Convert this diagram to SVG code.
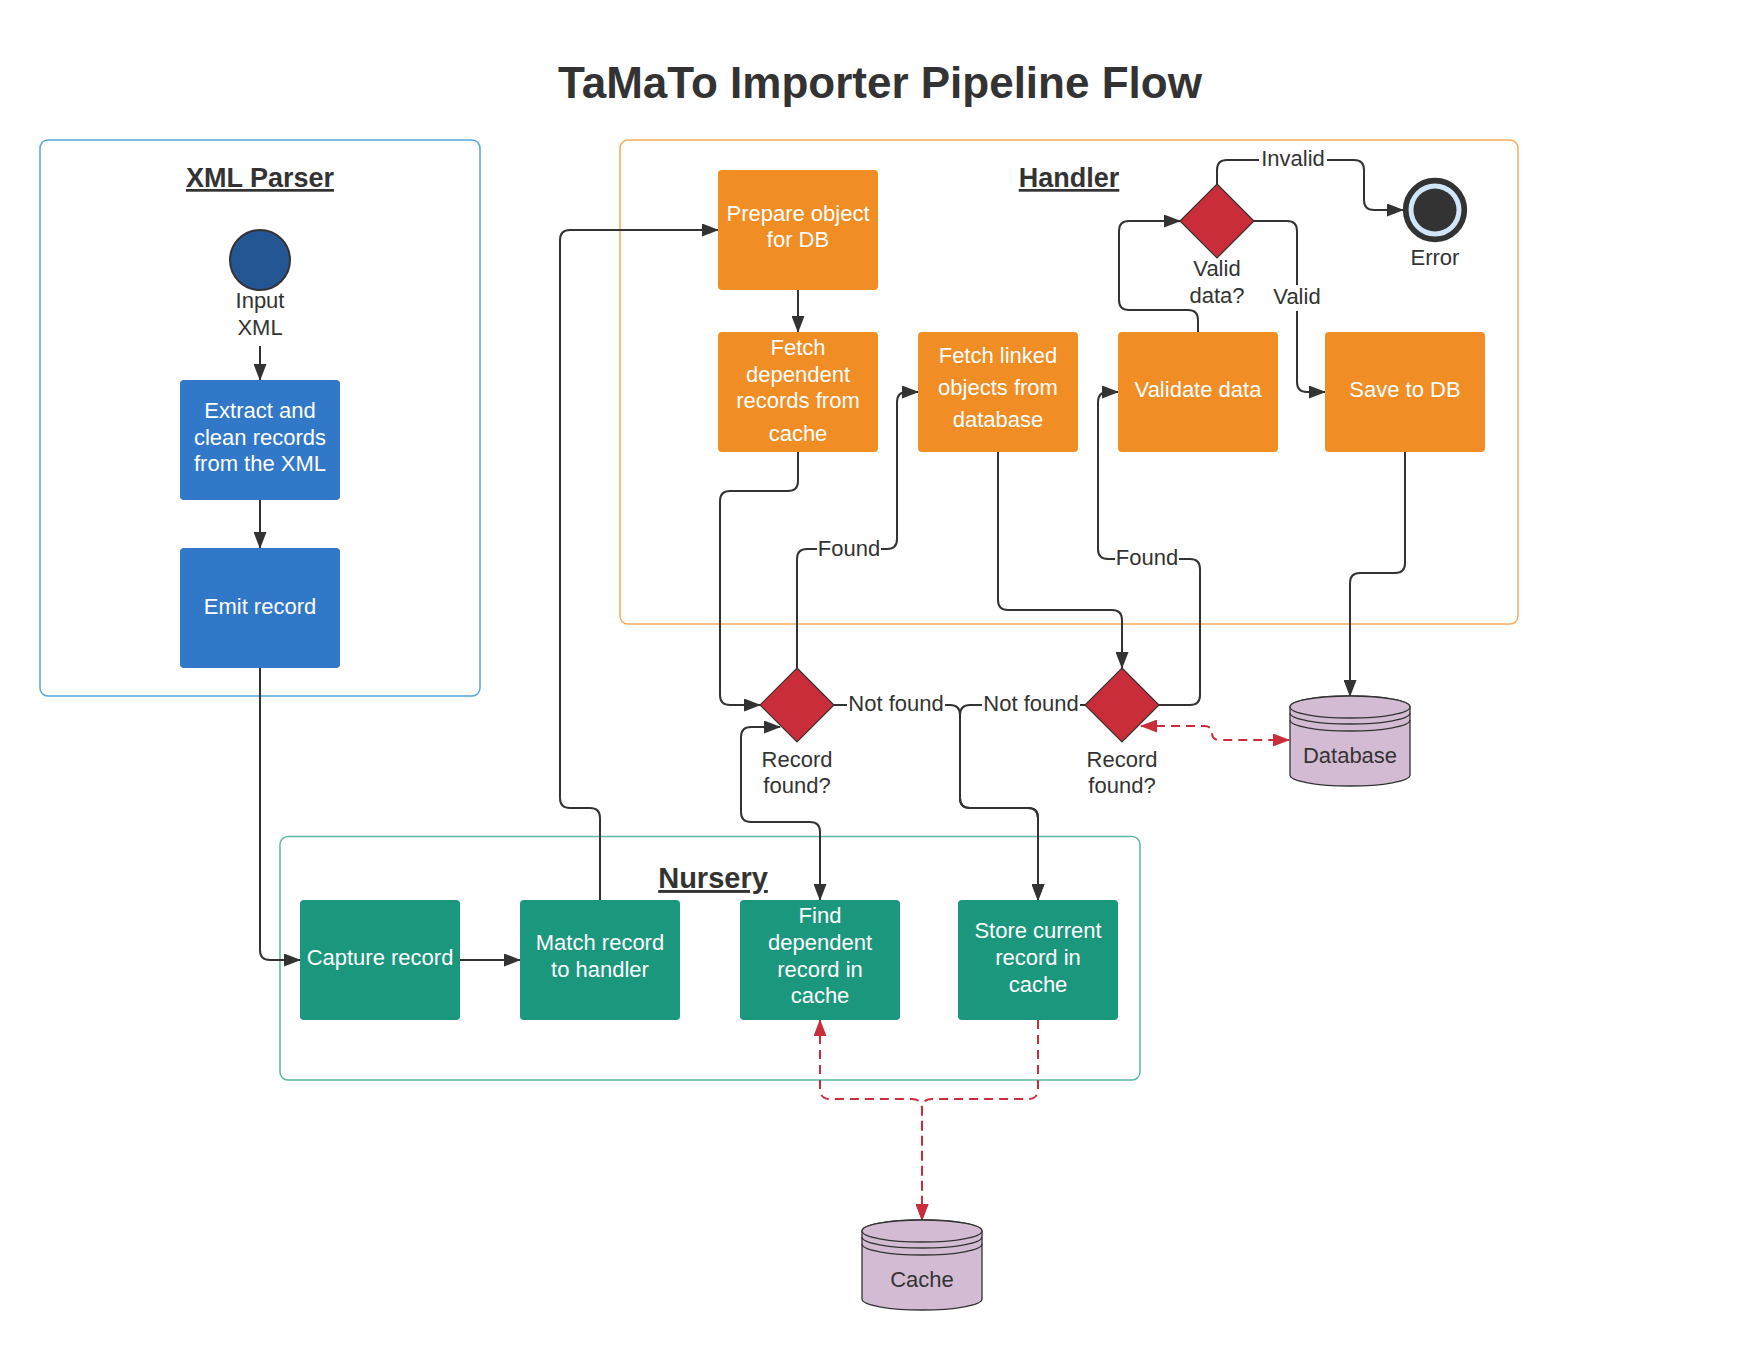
<svg xmlns="http://www.w3.org/2000/svg" width="1760" height="1360" viewBox="0 0 1760 1360">
<style>
text{font-family:"Liberation Sans",Arial,sans-serif;}
.title{font-size:44px;font-weight:bold;fill:#333;text-anchor:middle;}
.ctitle{font-size:27px;font-weight:bold;fill:#333;text-anchor:middle;text-decoration:underline;}
.wt{font-size:22px;fill:#fff;text-anchor:middle;}
.dk{font-size:22px;fill:#333;text-anchor:middle;}
.blue{fill:#3278c8;}
.orange{fill:#f08d25;}
.teal{fill:#1b977e;}
.dia{fill:#c92d39;stroke:#333;stroke-width:1.2;}
.cyl{fill:#d3bcd3;stroke:#333;stroke-width:1.3;}
.arc{fill:none;stroke:#333;stroke-width:1.3;}
.c{fill:none;stroke:#333;stroke-width:2;}
.r{fill:none;stroke:#c92d39;stroke-width:2;stroke-dasharray:9 6;}
.lb{fill:#fff;}
</style>
<defs>
<marker id="ah" markerUnits="userSpaceOnUse" markerWidth="17" markerHeight="13" refX="16" refY="6.5" orient="auto-start-reverse" viewBox="0 0 17 13"><path d="M0,0 L17,6.5 L0,13 z" fill="#333"/></marker>
<marker id="ahr" markerUnits="userSpaceOnUse" markerWidth="17" markerHeight="13" refX="16" refY="6.5" orient="auto-start-reverse" viewBox="0 0 17 13"><path d="M0,0 L17,6.5 L0,13 z" fill="#c92d39"/></marker>
</defs>
<rect width="1760" height="1360" fill="#fff"/>
<text class="title" x="880" y="98">TaMaTo Importer Pipeline Flow</text>

<g id="xml-parser">
<rect x="40" y="140" width="440" height="556" rx="8" fill="none" stroke="#55a6dc" stroke-width="1.5"/>
<text class="ctitle" x="260" y="187">XML Parser</text>
</g>
<g id="handler">
<rect x="620" y="140" width="898" height="484" rx="8" fill="none" stroke="#f6ab5c" stroke-width="1.5"/>
<text class="ctitle" x="1069" y="187">Handler</text>
</g>
<g id="nursery">
<rect x="280" y="836.5" width="860" height="243.5" rx="8" fill="none" stroke="#5bb8a3" stroke-width="1.5"/>
<text class="ctitle" x="713" y="888" style="font-size:29px">Nursery</text>
</g>

<g id="connectors">
<path class="c" d="M260 346 V380" marker-end="url(#ah)"/>
<path class="c" d="M260 500 V548" marker-end="url(#ah)"/>
<path class="c" d="M260 668 V950 Q260 960 270 960 H300" marker-end="url(#ah)"/>
<path class="c" d="M460 960 H520" marker-end="url(#ah)"/>
<path class="c" d="M600 900 V818 Q600 808 590 808 H570 Q560 808 560 798 V240 Q560 230 570 230 H718" marker-end="url(#ah)"/>
<path class="c" d="M798 290 V332" marker-end="url(#ah)"/>
<path class="c" d="M798 452 V481 Q798 491 788 491 H730 Q720 491 720 501 V695 Q720 705 730 705 H760" marker-end="url(#ah)"/>
<path class="c" d="M797 668 V559 Q797 549 807 549 H887 Q897 549 897 539 V402 Q897 392 907 392 H918" marker-end="url(#ah)"/>
<path class="c" d="M998 452 V600 Q998 610 1008 610 H1112 Q1122 610 1122 620 V668" marker-end="url(#ah)"/>
<path class="c" d="M1159 705 H1190 Q1200 705 1200 695 V569 Q1200 559 1190 559 H1108 Q1098 559 1098 549 V402 Q1098 392 1108 392 H1118" marker-end="url(#ah)"/>
<path class="c" d="M834 705 H950 Q960 705 960 715 V798 Q960 808 970 808 H1028 Q1038 808 1038 818 V900" marker-end="url(#ah)"/>
<path class="c" d="M1085 705 H970 Q960 705 960 715 V798 Q960 808 970 808 H1028 Q1038 808 1038 818 V900" marker-end="url(#ah)"/>
<path class="c" d="M820 900 V832 Q820 822 810 822 H751 Q741 822 741 812 V737 Q741 727 751 727 H780" marker-start="url(#ah)" marker-end="url(#ah)"/>
<path class="c" d="M1198 332 V320 Q1198 310 1188 310 H1129 Q1119 310 1119 300 V231 Q1119 221 1129 221 H1180" marker-end="url(#ah)"/>
<path class="c" d="M1254 221 H1287 Q1297 221 1297 231 V382 Q1297 392 1307 392 H1325" marker-end="url(#ah)"/>
<path class="c" d="M1217 184 V170 Q1217 160 1227 160 H1354 Q1364 160 1364 170 V200 Q1364 210 1374 210 H1403" marker-end="url(#ah)"/>
<path class="c" d="M1405 452 V563 Q1405 573 1395 573 H1360 Q1350 573 1350 583 V696" marker-end="url(#ah)"/>
<path class="r" d="M1141 726 H1204 Q1212 726 1212 733 Q1212 740 1220 740 H1289" marker-start="url(#ahr)" marker-end="url(#ahr)"/>
<path class="r" d="M820 1020 V1089 Q820 1099 830 1099 H912 Q922 1099 922 1109 V1220" marker-start="url(#ahr)" marker-end="url(#ahr)"/>
<path class="r" d="M1038 1020 V1089 Q1038 1099 1028 1099 H932 Q922 1099 922 1109 V1220" marker-end="url(#ahr)"/>
<rect class="lb" x="817" y="536" width="64" height="24"/>
<text class="dk" x="849" y="556">Found</text>
<rect class="lb" x="1115" y="546" width="64" height="24"/>
<text class="dk" x="1147" y="565">Found</text>
<rect class="lb" x="847" y="692" width="98" height="24"/>
<text class="dk" x="896" y="711">Not found</text>
<rect class="lb" x="982" y="692" width="98" height="24"/>
<text class="dk" x="1031" y="711">Not found</text>
<rect class="lb" x="1259" y="147" width="68" height="24"/>
<text class="dk" x="1293" y="166">Invalid</text>
<rect class="lb" x="1270" y="285" width="54" height="26"/>
<text class="dk" x="1297" y="304">Valid</text>
</g>

<g id="input-xml">
<circle cx="260" cy="260" r="30" fill="#245694" stroke="#333" stroke-width="2"/>
<text class="dk" x="260" y="308">Input</text>
<text class="dk" x="260" y="335">XML</text>
</g>
<g id="extract">
<rect class="blue" x="180" y="380" width="160" height="120" rx="4"/>
<text class="wt" x="260" y="418">Extract and</text>
<text class="wt" x="260" y="445">clean records</text>
<text class="wt" x="260" y="471">from the XML</text>
</g>
<g id="emit">
<rect class="blue" x="180" y="548" width="160" height="120" rx="4"/>
<text class="wt" x="260" y="614">Emit record</text>
</g>

<g id="prepare">
<rect class="orange" x="718" y="170" width="160" height="120" rx="4"/>
<text class="wt" x="798" y="221">Prepare object</text>
<text class="wt" x="798" y="247">for DB</text>
</g>
<g id="fetch-dependent">
<rect class="orange" x="718" y="332" width="160" height="120" rx="4"/>
<text class="wt" x="798" y="355">Fetch</text>
<text class="wt" x="798" y="382">dependent</text>
<text class="wt" x="798" y="408">records from</text>
<text class="wt" x="798" y="441">cache</text>
</g>
<g id="fetch-linked">
<rect class="orange" x="918" y="332" width="160" height="120" rx="4"/>
<text class="wt" x="998" y="363">Fetch linked</text>
<text class="wt" x="998" y="395">objects from</text>
<text class="wt" x="998" y="427">database</text>
</g>
<g id="validate">
<rect class="orange" x="1118" y="332" width="160" height="120" rx="4"/>
<text class="wt" x="1198" y="397">Validate data</text>
</g>
<g id="save">
<rect class="orange" x="1325" y="332" width="160" height="120" rx="4"/>
<text class="wt" x="1405" y="397">Save to DB</text>
</g>
<g id="valid-decision">
<polygon class="dia" points="1217,184 1254,221 1217,258 1180,221"/>
<text class="dk" x="1217" y="276">Valid</text>
<text class="dk" x="1217" y="303">data?</text>
</g>
<g id="error">
<circle cx="1435" cy="210" r="29.3" fill="#d2e6fa" stroke="#333" stroke-width="5.7"/>
<circle cx="1435" cy="210" r="21.5" fill="#333"/>
<text class="dk" x="1435" y="265">Error</text>
</g>

<g id="cache-decision">
<polygon class="dia" points="797,668 834,705 797,742 760,705"/>
<text class="dk" x="797" y="767">Record</text>
<text class="dk" x="797" y="793">found?</text>
</g>
<g id="db-decision">
<polygon class="dia" points="1122,668 1159,705 1122,742 1085,705"/>
<text class="dk" x="1122" y="767">Record</text>
<text class="dk" x="1122" y="793">found?</text>
</g>

<g id="capture">
<rect class="teal" x="300" y="900" width="160" height="120" rx="4"/>
<text class="wt" x="380" y="965">Capture record</text>
</g>
<g id="match">
<rect class="teal" x="520" y="900" width="160" height="120" rx="4"/>
<text class="wt" x="600" y="950">Match record</text>
<text class="wt" x="600" y="977">to handler</text>
</g>
<g id="find">
<rect class="teal" x="740" y="900" width="160" height="120" rx="4"/>
<text class="wt" x="820" y="923">Find</text>
<text class="wt" x="820" y="950">dependent</text>
<text class="wt" x="820" y="977">record in</text>
<text class="wt" x="820" y="1003">cache</text>
</g>
<g id="store">
<rect class="teal" x="958" y="900" width="160" height="120" rx="4"/>
<text class="wt" x="1038" y="938">Store current</text>
<text class="wt" x="1038" y="965">record in</text>
<text class="wt" x="1038" y="992">cache</text>
</g>

<g id="database">
<path class="cyl" d="M1290 707 A60 11 0 0 1 1410 707 V775 A60 11 0 0 1 1290 775 Z"/>
<ellipse class="cyl" cx="1350" cy="707" rx="60" ry="11"/>
<path class="arc" d="M1290 713 A60 11 0 0 0 1410 713 M1290 720 A60 11 0 0 0 1410 720"/>
<text class="dk" x="1350" y="763">Database</text>
</g>
<g id="cache">
<path class="cyl" d="M862 1231 A60 11 0 0 1 982 1231 V1299 A60 11 0 0 1 862 1299 Z"/>
<ellipse class="cyl" cx="922" cy="1231" rx="60" ry="11"/>
<path class="arc" d="M862 1237 A60 11 0 0 0 982 1237 M862 1244 A60 11 0 0 0 982 1244"/>
<text class="dk" x="922" y="1287">Cache</text>
</g>
</svg>
